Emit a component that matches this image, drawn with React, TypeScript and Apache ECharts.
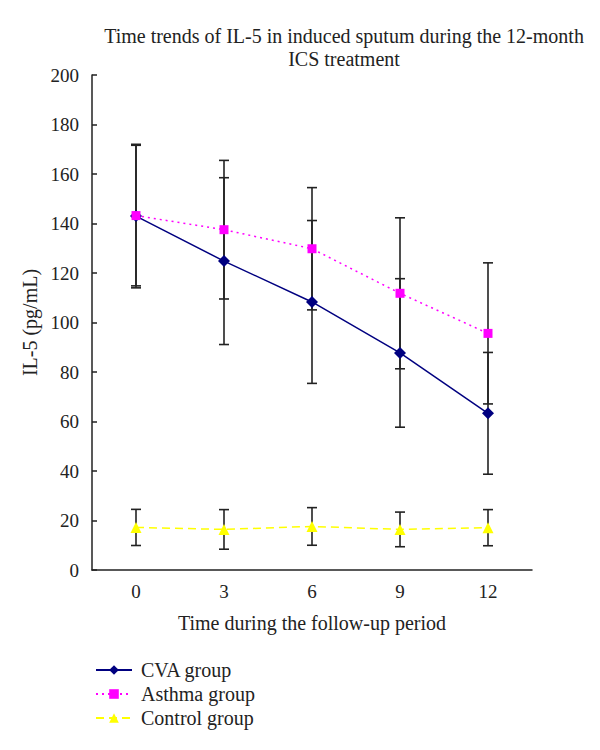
import React, { useEffect, useRef } from "react";
import * as echarts from "echarts";

const categories = ["0", "3", "6", "9", "12"];
const cvaMean = [143, 124.8, 108.3, 87.7, 63.3];
const cvaSD = [29, 33.7, 32.9, 30, 24.6];
const asthmaMean = [143.2, 137.5, 129.8, 111.8, 95.6];
const asthmaSD = [28.4, 28, 24.7, 30.5, 28.5];
const controlMean = [17.2, 16.4, 17.6, 16.4, 17.1];
const controlSD = [7.3, 8, 7.6, 7, 7.3];
const yTicks = [0, 200, 20];

const FONT = "Liberation Serif";

function errData(mean: number[], sd: number[]) {
  return mean.map((m, i) => [i, m - sd[i], m + sd[i]]);
}

function errSeries(mean: number[], sd: number[]) {
  return {
    type: "custom",
    z: 1,
    silent: true,
    encode: { x: 0, y: [1, 2] },
    data: errData(mean, sd),
    renderItem: (params: any, api: any) => {
      const x = api.value(0);
      const lo = api.coord([x, api.value(1)]);
      const hi = api.coord([x, api.value(2)]);
      const hw = 5;
      const style = { stroke: "#222", lineWidth: 1.6 };
      return {
        type: "group",
        children: [
          { type: "line", shape: { x1: hi[0], y1: hi[1], x2: lo[0], y2: lo[1] }, style },
          { type: "line", shape: { x1: hi[0] - hw, y1: hi[1], x2: hi[0] + hw, y2: hi[1] }, style },
          { type: "line", shape: { x1: lo[0] - hw, y1: lo[1], x2: lo[0] + hw, y2: lo[1] }, style },
        ],
      };
    },
  };
}

export default function App() {
  const ref = useRef<HTMLDivElement>(null);
  useEffect(() => {
    if (!ref.current) return;
    const chart = echarts.init(ref.current, undefined, { renderer: "svg" });
    chart.setOption({
      animation: false,
      backgroundColor: "#fff",
      textStyle: { fontFamily: FONT, color: "#222" },
      title: {
        text: "Time trends of IL-5 in induced sputum during the 12-month\nICS treatment",
        left: 339,
        textAlign: "center",
        top: 19,
        textStyle: { fontFamily: FONT, fontSize: 20, fontWeight: "normal", color: "#222", lineHeight: 23 },
      },
      grid: { left: 92, top: 75, width: 440, height: 495 },
      legend: {
        orient: "vertical",
        left: 90,
        top: 655,
        itemGap: 4,
        itemWidth: 36,
        itemHeight: 12,
        formatter: "{s|{name}}",
        textStyle: {
          fontFamily: FONT,
          fontSize: 20,
          color: "#222",
          rich: { s: { fontFamily: FONT, fontSize: 20, color: "#222", padding: [0, 0, 0, 4] } },
        },
        data: ["CVA group", "Asthma group", "Control group"],
      },
      xAxis: {
        type: "category",
        data: categories,
        boundaryGap: true,
        name: "Time during the follow-up period",
        nameLocation: "middle",
        nameGap: 43,
        nameTextStyle: { fontFamily: FONT, fontSize: 20, color: "#222" },
        axisLine: { lineStyle: { color: "#222", width: 1.5 } },
        axisTick: { inside: true, length: 6, lineStyle: { color: "#222", width: 1.5 } },
        axisLabel: { fontFamily: FONT, fontSize: 19, color: "#222", margin: 12 },
      },
      yAxis: {
        type: "value",
        min: yTicks[0],
        max: yTicks[1],
        interval: yTicks[2],
        name: "IL-5 (pg/mL)",
        nameLocation: "middle",
        nameGap: 48,
        nameTextStyle: { fontFamily: FONT, fontSize: 20, color: "#222" },
        splitLine: { show: false },
        axisLine: { show: true, lineStyle: { color: "#222", width: 1.5 } },
        axisTick: { show: true, inside: true, length: 5, lineStyle: { color: "#222", width: 1.5 } },
        axisLabel: { fontFamily: FONT, fontSize: 19, color: "#222", margin: 13 },
      },
      series: [
        errSeries(cvaMean, cvaSD),
        errSeries(asthmaMean, asthmaSD),
        errSeries(controlMean, controlSD),
        {
          name: "CVA group",
          type: "line",
          z: 3,
          data: cvaMean,
          symbol: "diamond",
          symbolSize: 12,
          itemStyle: { color: "#000080" },
          lineStyle: { color: "#000080", width: 1.5, type: "solid" },
        },
        {
          name: "Asthma group",
          type: "line",
          z: 3,
          data: asthmaMean,
          symbol: "rect",
          symbolSize: 9,
          itemStyle: { color: "#FF00FF" },
          lineStyle: { color: "#FF00FF", width: 1.5, type: [2, 4] },
        },
        {
          name: "Control group",
          type: "line",
          z: 3,
          data: controlMean,
          symbol: "triangle",
          symbolSize: 11,
          itemStyle: { color: "#FFFF00" },
          lineStyle: { color: "#FFFF00", width: 1.5, type: [8, 5] },
        },
      ],
    });
    return () => chart.dispose();
  }, []);
  return (
    <div
      ref={ref}
      style={{ position: "fixed", left: 0, top: 0, width: 600, height: 750, background: "#fff" }}
    />
  );
}
